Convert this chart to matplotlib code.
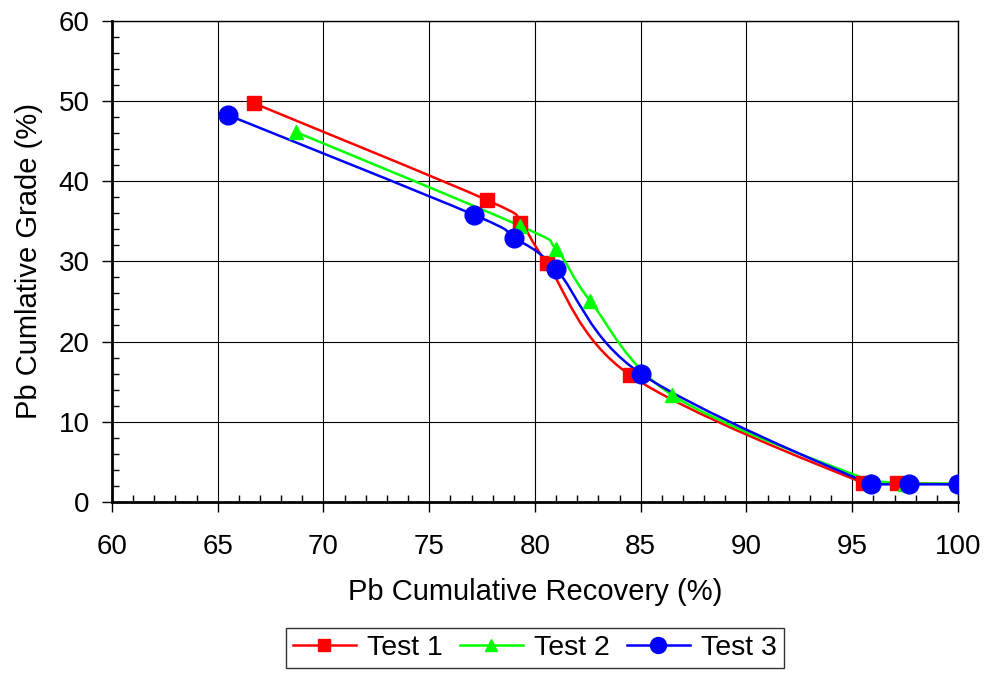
import numpy as np
import matplotlib
matplotlib.use("Agg")
import matplotlib.pyplot as plt
from matplotlib.path import Path
from matplotlib.patches import PathPatch
from matplotlib.lines import Line2D
from matplotlib.ticker import MultipleLocator

plt.rcParams['font.family'] = ['Liberation Sans', 'DejaVu Sans']

test1_x = [66.7, 77.75, 79.3, 80.55, 84.5, 95.5, 97.1, 100.0]
test1_y = [49.7, 37.6, 34.8, 29.8, 15.8, 2.4, 2.4, 2.2]
test2_x = [68.7, 79.3, 81.0, 82.6, 86.5, 95.9, 97.5, 100.0]
test2_y = [46.1, 34.4, 31.5, 25.1, 13.3, 2.6, 2.3, 2.3]
test3_x = [65.5, 77.1, 79.0, 81.0, 85.0, 95.9, 97.7, 100.0]
test3_y = [48.2, 35.8, 32.95, 29.0, 16.0, 2.2, 2.2, 2.2]

series = [
    ("Test 1", test1_x, test1_y, "#ff0000", "s", 10.5),
    ("Test 2", test2_x, test2_y, "#00ff00", "^", 10.5),
    ("Test 3", test3_x, test3_y, "#0000ff", "o", 13.5),
]

fig = plt.figure(figsize=(9.91, 6.77), dpi=100)
ax = fig.add_axes([0.1130, 0.2585, 0.8537, 0.7112])


def smooth_path(xs, ys):
    p = np.column_stack([xs, ys])
    n = len(p)
    verts = [p[0]]
    codes = [Path.MOVETO]
    for i in range(n - 1):
        p0 = p[i - 1] if i > 0 else p[i]
        p3 = p[i + 2] if i + 2 < n else p[i + 1]
        c1 = p[i] + (p[i + 1] - p0) / 6.0
        c2 = p[i + 1] - (p3 - p[i]) / 6.0
        lo, hi = min(p[i][1], p[i + 1][1]), max(p[i][1], p[i + 1][1])
        c1[1] = np.clip(c1[1], lo, hi)
        c2[1] = np.clip(c2[1], lo, hi)
        verts += [c1, c2, p[i + 1]]
        codes += [Path.CURVE4] * 3
    return Path(verts, codes)


handles = []
for name, xs, ys, col, mk, ms in series:
    patch = PathPatch(smooth_path(xs, ys), facecolor='none', edgecolor=col,
                      lw=1.8, zorder=3)
    ax.add_patch(patch)
for name, xs, ys, col, mk, ms in series:
    ax.plot(xs, ys, linestyle='none', marker=mk, markersize=ms, color=col,
            markeredgecolor=col, zorder=4)
    handles.append(Line2D([], [], color=col, lw=1.8, marker=mk,
                          markersize=ms * 0.85, label=name))

ax.set_xlim(60, 100)
ax.set_ylim(0, 60)
ax.xaxis.set_major_locator(MultipleLocator(5))
ax.xaxis.set_minor_locator(MultipleLocator(1))
ax.yaxis.set_major_locator(MultipleLocator(10))
ax.yaxis.set_minor_locator(MultipleLocator(2))
ax.grid(True, which='major', color='black', lw=0.8)
ax.set_axisbelow(True)
for s in ax.spines.values():
    s.set_linewidth(1.0)
ax.spines['left'].set_linewidth(2.0)
ax.spines['bottom'].set_linewidth(2.0)
ax.tick_params(which='major', direction='out', length=7, width=1.0,
               labelsize=20)
ax.tick_params(axis='x', which='major', pad=16)
ax.tick_params(axis='y', which='major', pad=9)
ax.tick_params(which='minor', direction='in', length=5, width=1.0)
ax.tick_params(axis='both', which='both', top=False, right=False)

ax.set_xlabel("Pb Cumulative Recovery (%)", fontsize=21, labelpad=13)
ax.set_ylabel("Pb Cumlative Grade (%)", fontsize=21, labelpad=11)

leg = ax.legend(handles=handles, loc='upper center',
                bbox_to_anchor=(0.5, -0.262), ncol=3, fontsize=20.5,
                frameon=True, fancybox=False, edgecolor='black',
                handlelength=2.2, handletextpad=0.4, columnspacing=0.6,
                borderpad=0.25, borderaxespad=0)
leg.get_frame().set_linewidth(1.0)

fig.savefig("out.png", dpi=100)
